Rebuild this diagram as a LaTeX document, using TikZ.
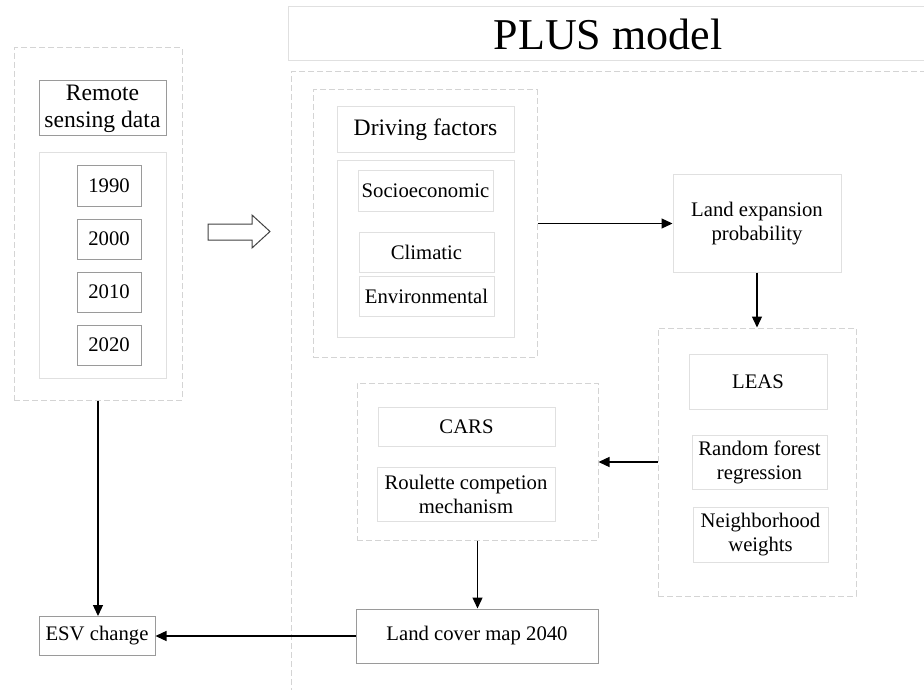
\documentclass[tikz,border=0pt]{standalone}
\usepackage{fontspec}
\setmainfont{Liberation Serif}
\usetikzlibrary{arrows.meta}

\definecolor{edgegray}{HTML}{9A9A9A}
\definecolor{softgray}{HTML}{E0E0E0}
\definecolor{dashgray}{HTML}{D4D4D4}

\tikzset{
    darkbox/.style={draw=edgegray, line width=1pt, inner sep=0pt, align=center,
        font=\fontsize{20.7}{24}\selectfont},
    softbox/.style={draw=softgray, line width=1pt, inner sep=0pt, align=center,
        font=\fontsize{20.7}{24}\selectfont},
    headbox/.style={font=\fontsize{23.6}{27}\selectfont},
    groupbox/.style={draw=dashgray, line width=1pt, dash pattern=on 6pt off 3pt, inner sep=0pt},
    flow/.style={-{Triangle[length=11pt, width=10pt]}, line width=1.3pt},
}

\begin{document}
\begin{tikzpicture}[x=1pt, y=-1pt]
    \useasboundingbox (0,0) rectangle (924,690);

    % title and outer frame of the model
    \node[softbox, minimum width=640pt, minimum height=54pt, font=\fontsize{44}{48}\selectfont] (plus) at (608,34) {PLUS model};
    \draw[groupbox] (935,72) -- (291,72) -- (291,700);

    % input data
    \node[groupbox, minimum width=168pt, minimum height=352pt] (src) at (98,224) {};
    \node[darkbox, headbox, minimum width=127pt, minimum height=55pt] (rsd) at (102.5,108.5) {Remote\\sensing data};
    \node[softbox, minimum width=127pt, minimum height=225pt] (years) at (102.5,265.5) {};
    \node[darkbox, minimum width=64pt, minimum height=40pt] (y1990) at (109,186) {1990};
    \node[darkbox, minimum width=64pt, minimum height=40pt] (y2000) at (109,239) {2000};
    \node[darkbox, minimum width=64pt, minimum height=40pt] (y2010) at (109,292) {2010};
    \node[darkbox, minimum width=64pt, minimum height=40pt] (y2020) at (109,345) {2020};

    \draw[black!75, line width=1pt] (208,224) -- (252,224) -- (252,215) -- (270,231.5)
        -- (252,248) -- (252,240) -- (208,240) -- cycle;

    % driving factors
    \node[groupbox, minimum width=224pt, minimum height=267pt] (drvgrp) at (425,223.5) {};
    \node[softbox, headbox, minimum width=177pt, minimum height=46pt] (drv) at (425.5,130) {Driving factors};
    \node[softbox, minimum width=177pt, minimum height=176pt] (fct) at (425.5,249) {};
    \node[softbox, minimum width=135pt, minimum height=40pt] (soc) at (425.5,191) {Socioeconomic};
    \node[softbox, minimum width=135pt, minimum height=40pt] (cli) at (426.5,252) {Climatic};
    \node[softbox, minimum width=135pt, minimum height=40pt] (env) at (426.5,296) {Environmental};

    \node[softbox, minimum width=168pt, minimum height=97pt] (lep) at (757,223.5) {Land expansion\\probability};

    % LEAS
    \node[groupbox, minimum width=198pt, minimum height=268pt] (leasgrp) at (757,462) {};
    \node[softbox, minimum width=138pt, minimum height=55pt] (leas) at (758,381.5) {LEAS};
    \node[softbox, minimum width=135pt, minimum height=54pt] (rfr) at (759.5,462) {Random forest\\regression};
    \node[softbox, minimum width=135pt, minimum height=55pt] (nbw) at (760.5,534.5) {Neighborhood\\weights};

    % CARS
    \node[groupbox, minimum width=241pt, minimum height=157pt] (carsgrp) at (477.5,461.5) {};
    \node[softbox, minimum width=177pt, minimum height=39pt] (cars) at (466.5,426.5) {CARS};
    \node[softbox, minimum width=178pt, minimum height=54pt] (rcm) at (466,494) {Roulette competion\\mechanism};

    \node[darkbox, minimum width=242pt, minimum height=54pt] (lcm) at (477,636) {Land cover map 2040};
    \node[darkbox, minimum width=116pt, minimum height=39pt] (esv) at (97,636) {ESV change};

    \draw[flow] (drvgrp.east) -- (lep.west);
    \draw[flow] (lep.south) -- (leasgrp.north);
    \draw[flow] (leasgrp.west) -- (leasgrp.west -| carsgrp.east);
    \draw[flow] (carsgrp.south) -- (carsgrp.south |- lcm.north);
    \draw[flow] (lcm.west) -- (esv.east);
    \draw[flow] (src.south) -- (src.south |- esv.north);
\end{tikzpicture}
\end{document}
